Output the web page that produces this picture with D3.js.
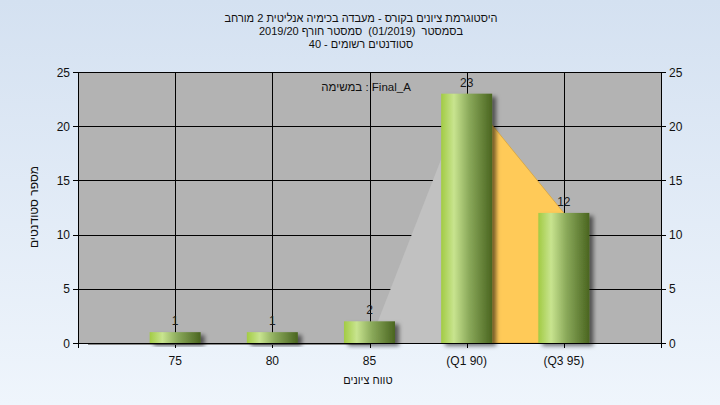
<!DOCTYPE html>
<html>
<head>
<meta charset="utf-8">
<script src="https://cdn.jsdelivr.net/npm/d3@7"></script>
<style>
html,body{margin:0;padding:0;background:#fff;}
svg{display:block;}
text{font-family:"Liberation Sans",Arial,sans-serif;}
</style>
</head>
<body>
<svg id="chart" width="720" height="405"></svg>
<script>
const titleLines = [
  "היסטוגרמת ציונים בקורס - מעבדה בכימיה אנליטית 2 מורחב",
  "בסמסטר  (01/2019)  סמסטר חורף 2019/20",
  "סטודנטים רשומים - 40"
];
const categories = ["75", "80", "85", "(Q1 90)", "(Q3 95)"];
const counts = [1, 1, 2, 23, 12];
const lowerArea = [null, null, 0, 23, null];
const iqrArea = [null, null, null, 23, 12];
const yTicks = [0, 5, 10, 15, 20, 25];
const legendText = "במשימה : Final_A";
const xTitle = "טווח ציונים";
const yTitle = "מספר סטודנטים";

const W = 720, H = 405;
const m = {left: 78, right: 661, top: 72, bottom: 343};
const svg = d3.select("#chart");
const defs = svg.append("defs");

const bgGrad = defs.append("linearGradient").attr("id", "bg").attr("x1", 0).attr("y1", 0).attr("x2", 0).attr("y2", 1);
bgGrad.append("stop").attr("offset", "0%").attr("stop-color", "#d4e1f1");
bgGrad.append("stop").attr("offset", "100%").attr("stop-color", "#eff5fc");

const barGrad = defs.append("linearGradient").attr("id", "bar").attr("x1", 0).attr("y1", 0).attr("x2", 1).attr("y2", 0);
barGrad.append("stop").attr("offset", "0%").attr("stop-color", "#a2cb44");
barGrad.append("stop").attr("offset", "25%").attr("stop-color", "#c8e48f");
barGrad.append("stop").attr("offset", "55%").attr("stop-color", "#8aa95a");
barGrad.append("stop").attr("offset", "100%").attr("stop-color", "#4a6520");

const shadow = defs.append("filter").attr("id", "shadow").attr("x", "-20%").attr("y", "-20%").attr("width", "150%").attr("height", "150%");
shadow.append("feDropShadow").attr("dx", 4).attr("dy", 3).attr("stdDeviation", 2)
  .attr("flood-color", "#000").attr("flood-opacity", 0.55);

svg.append("rect").attr("width", W).attr("height", H).attr("fill", "url(#bg)");

const x = d3.scalePoint().domain(categories).range([m.left, m.right]).padding(1);
const y = d3.scaleLinear().domain([0, 25]).range([m.bottom, m.top]);
const bw = x.step() * 0.525;

// plot background
svg.append("rect").attr("x", m.left).attr("y", m.top)
  .attr("width", m.right - m.left).attr("height", m.bottom - m.top).attr("fill", "#b3b3b3");

// gridlines + ticks
const grid = svg.append("g").attr("stroke", "#000").attr("stroke-width", 1).attr("shape-rendering", "crispEdges");
yTicks.forEach(t => {
  grid.append("line").attr("x1", m.left - 5).attr("x2", m.right + 5)
    .attr("y1", Math.round(y(t)) + 0.5).attr("y2", Math.round(y(t)) + 0.5);
});
categories.forEach(c => {
  grid.append("line").attr("x1", Math.round(x(c)) + 0.5).attr("x2", Math.round(x(c)) + 0.5)
    .attr("y1", m.top).attr("y2", m.bottom + 5);
});

// areas
const area = d3.area()
  .defined(d => d.v !== null)
  .x(d => x(d.c)).y0(y(0)).y1(d => y(d.v));
const mk = arr => categories.map((c, i) => ({c, v: arr[i]}));
svg.append("path").datum(mk(lowerArea)).attr("d", area).attr("fill", "#c1c1c1");
svg.append("path").datum(mk(iqrArea)).attr("d", area).attr("fill", "#ffca58")
  .attr("stroke", "#d9a43a").attr("stroke-width", 0.8);

// thin line under the axis
svg.append("line").attr("x1", m.left + 10).attr("x2", x("85")).attr("y1", m.bottom + 1.5).attr("y2", m.bottom + 1.5)
  .attr("stroke", "#8a8a8a").attr("stroke-width", 1).attr("shape-rendering", "crispEdges");

// axes lines
const ax = svg.append("g").attr("stroke", "#000").attr("stroke-width", 1).attr("shape-rendering", "crispEdges");
ax.append("line").attr("x1", m.left + 0.5).attr("x2", m.left + 0.5).attr("y1", m.top).attr("y2", m.bottom + 5);
ax.append("line").attr("x1", m.right + 0.5).attr("x2", m.right + 0.5).attr("y1", m.top).attr("y2", m.bottom + 5);
ax.append("line").attr("x1", m.left).attr("x2", m.right).attr("y1", m.top + 0.5).attr("y2", m.top + 0.5);
ax.append("line").attr("x1", m.left).attr("x2", m.right + 1).attr("y1", m.bottom + 0.5).attr("y2", m.bottom + 0.5);

// bars
svg.append("g").selectAll("rect").data(counts).join("rect")
  .attr("x", (d, i) => x(categories[i]) - bw / 2)
  .attr("y", d => y(d))
  .attr("width", bw)
  .attr("height", d => y(0) - y(d))
  .attr("fill", "url(#bar)")
  .attr("filter", "url(#shadow)");

// value labels
svg.append("g").selectAll("text").data(counts).join("text")
  .attr("x", (d, i) => x(categories[i]))
  .attr("y", d => y(d) - 7)
  .attr("text-anchor", "middle").attr("font-size", 12).attr("fill", "#1a1a1a")
  .text(d => d);

// y tick labels
const yl = svg.append("g").attr("font-size", 12).attr("fill", "#111");
yTicks.forEach(t => {
  yl.append("text").attr("x", m.left - 8).attr("y", y(t) + 4.5).attr("text-anchor", "end").text(t);
  yl.append("text").attr("x", m.right + 8).attr("y", y(t) + 4.5).attr("text-anchor", "start").text(t);
});

// x tick labels
svg.append("g").selectAll("text").data(categories).join("text")
  .attr("x", d => x(d)).attr("y", m.bottom + 22)
  .attr("text-anchor", "middle").attr("font-size", 12).attr("fill", "#111")
  .attr("direction", "ltr")
  .text(d => d);

// titles
svg.append("g").selectAll("text").data(titleLines).join("text")
  .attr("x", 361).attr("y", (d, i) => 22 + i * 13)
  .attr("text-anchor", "middle").attr("font-size", 11).attr("fill", "#111")
  .attr("direction", "rtl").style("white-space", "pre")
  .text(d => d);

// legend text inside plot
svg.append("text").attr("x", 366).attr("y", 91)
  .attr("text-anchor", "middle").attr("font-size", 11.5).attr("fill", "#111")
  .attr("direction", "ltr")
  .text(legendText);

// axis titles
svg.append("text").attr("x", 368).attr("y", 384)
  .attr("text-anchor", "middle").attr("font-size", 11).attr("fill", "#111")
  .attr("direction", "rtl").text(xTitle);
svg.append("text").attr("transform", "translate(38,207) rotate(-90)")
  .attr("text-anchor", "middle").attr("font-size", 12).attr("fill", "#111")
  .attr("direction", "rtl").text(yTitle);
</script>
</body>
</html>
